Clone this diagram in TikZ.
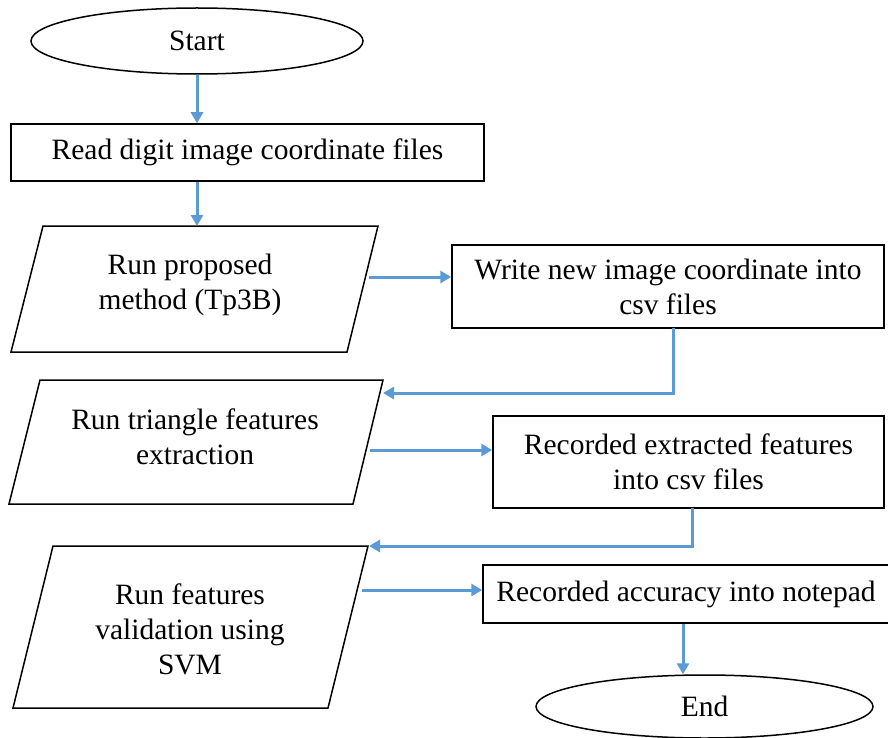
\documentclass[tikz,border=0pt]{standalone}
\usepackage{fontspec}
\setmainfont{Liberation Serif}
\usetikzlibrary{arrows.meta,shapes.geometric}
\definecolor{flowblue}{HTML}{5B9BD5}
\begin{document}
\begin{tikzpicture}[x=1pt,y=-1pt,
  lbl/.style={font=\rmfamily\fontsize{29.5}{35}\selectfont,align=center},
  box/.style={lbl,draw=black,line width=1.5pt,rectangle,inner sep=0pt},
  oval/.style={lbl,draw=black,line width=1.5pt,ellipse,inner sep=0pt},
  txt/.style={lbl,inner sep=0pt},
  para/.style={draw=black,line width=1.5pt,line join=miter},
  flow/.style={draw=flowblue,line width=3pt,-{Triangle[length=11pt,width=12pt]}}]
\useasboundingbox (0,0) rectangle (888,738);
\fill[white] (0,0) rectangle (888,738);

% terminals and process boxes
\node[oval,minimum width=332pt,minimum height=66pt] (start) at (197,41) {Start};
\node[box,minimum width=473pt,minimum height=57pt] (read) at (247.5,152.5) {Read digit image coordinate files};
\node[box,minimum width=432pt,minimum height=83pt] (write) at (668,286.5) {Write new image coordinate into\\csv files};
\node[box,minimum width=391pt,minimum height=92pt] (rec) at (688.5,462) {Recorded extracted features\\into csv files};
\node[box,minimum width=406pt,minimum height=58pt] (acc) at (686,594) {Recorded accuracy into notepad};
\node[oval,minimum width=337pt,minimum height=63pt] (end) at (704.5,706.5) {End};

% parallelograms (input/output)
\draw[para] (43,226) -- (378,226) -- (347,352) -- (11,352) -- cycle;
\node[txt] (p1) at (190,284.5) {Run proposed\\method (Tp3B)};
\draw[para] (40,380) -- (383,380) -- (353,504) -- (9,504) -- cycle;
\node[txt] (p2) at (195,436.5) {Run triangle features\\extraction};
\draw[para] (53,546) -- (368,546) -- (328,708) -- (13,708) -- cycle;
\node[txt] (p3) at (190,629.5) {Run features\\validation using\\SVM};

% anchor points on the slanted edges
\coordinate (p1top) at (197,226);
\coordinate (p1out) at (369,277);
\coordinate (p2in) at (383,393);
\coordinate (p2out) at (370,450);
\coordinate (p3in) at (369,546);
\coordinate (p3out) at (362,590);
\coordinate (wdown) at (673,328);
\coordinate (rdown) at (692,508);
\coordinate (adown) at (683,624);

% connectors
\draw[flow] (start.south) -- (start.south |- read.north);
\draw[flow] (start.south |- read.south) -- (p1top);
\draw[flow] (p1out) -- (write.west |- p1out);
\draw[flow] (wdown) |- (p2in);
\draw[flow] (p2out) -- (rec.west |- p2out);
\draw[flow] (rdown) |- (p3in);
\draw[flow] (p3out) -- (acc.west |- p3out);
\draw[flow] (adown) -- (adown |- end.north);
\end{tikzpicture}
\end{document}
